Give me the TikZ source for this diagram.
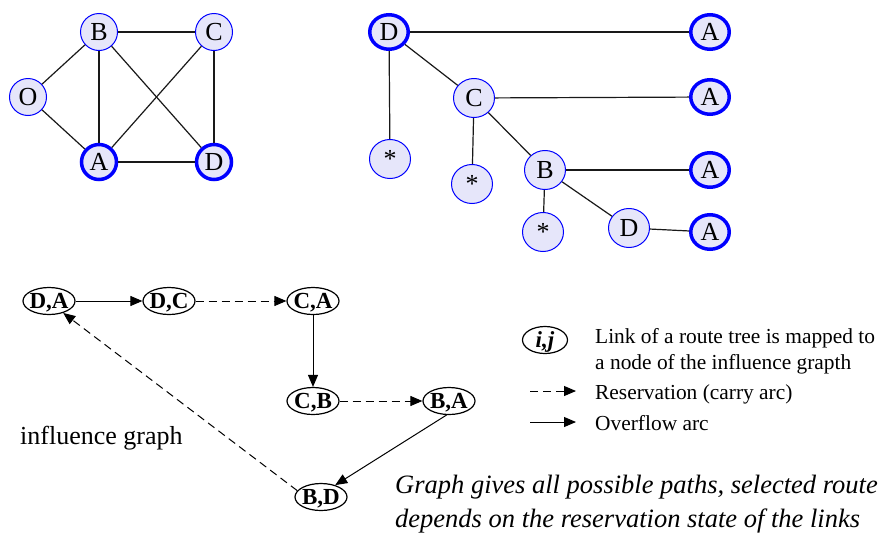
\documentclass[tikz,border=0pt]{standalone}
\usepackage{fontspec}
\setmainfont{Liberation Serif}
\usetikzlibrary{shapes.geometric,arrows.meta}
\definecolor{nodefill}{RGB}{230,230,250}
\definecolor{nodeblue}{RGB}{0,0,255}
\definecolor{edgegray}{RGB}{25,25,25}
\begin{document}
\begin{tikzpicture}[x=1pt,y=-1pt,
  gnode/.style={circle,draw=nodeblue,fill=nodefill,line width=1pt,minimum size=37pt,inner sep=0pt,font=\fontsize{26}{26}\selectfont},
  gthick/.style={gnode,line width=3.5pt,minimum size=35pt},
  tnode/.style={ellipse,draw=nodeblue,fill=nodefill,line width=1pt,minimum width=41pt,minimum height=39pt,inner sep=0pt,font=\fontsize{26}{26}\selectfont},
  tthick/.style={tnode,line width=3.5pt,minimum width=38.5pt,minimum height=34.5pt},
  gedge/.style={draw=edgegray,line width=1.2pt},
  inode/.style={ellipse,draw,line width=1.2pt,minimum width=52pt,minimum height=27pt,inner sep=0pt,text height=15pt,text depth=0pt,font=\fontsize{23}{23}\selectfont\bfseries},
  solidarr/.style={-{Triangle[length=12pt,width=10pt]},line width=1pt},
  dasharr/.style={solidarr,dash pattern=on 8pt off 5pt},
  legtext/.style={anchor=base west,inner sep=0pt,font=\fontsize{21.4}{21.4}\selectfont},
  ittext/.style={anchor=base west,inner sep=0pt,font=\fontsize{26.5}{26.5}\selectfont\itshape},
]
\useasboundingbox (0,0) rectangle (882,536);

% ---------- network graph ----------
\node[gnode]  (gB) at (99,32)  {B};
\node[gnode]  (gC) at (214,32) {C};
\node[gnode]  (gO) at (28,97)  {O};
\node[gthick] (gA) at (99,162) {A};
\node[gthick] (gD) at (214,162) {D};
\draw[gedge] (gB) -- (gC);
\draw[gedge] (gB) -- (gO);
\draw[gedge] (gB) -- (gA);
\draw[gedge] (gB) -- (gD);
\draw[gedge] (gC) -- (gA);
\draw[gedge] (gC) -- (gD);
\draw[gedge] (gO) -- (gA);
\draw[gedge,line width=1.8pt] (gA) -- (gD);

% ---------- route tree ----------
\node[tthick] (tD)  at (389,32)  {D};
\node[tthick] (tA1) at (710,32)  {A};
\node[tnode]  (tC)  at (474,98)  {C};
\node[tthick] (tA2) at (710,97)  {A};
\node[tnode]  (ts1) at (390,159) {*};
\node[tnode]  (ts2) at (472,184) {*};
\node[tnode]  (tB)  at (545,170) {B};
\node[tthick] (tA3) at (710,170) {A};
\node[tnode]  (ts3) at (543,232) {*};
\node[tnode]  (tD2) at (629,228) {D};
\node[tthick] (tA4) at (710,232) {A};
\draw[gedge] (tD) -- (tA1);
\draw[gedge] (tD) -- (tC);
\draw[gedge] (tD) -- (ts1);
\draw[gedge] (tC) -- (tA2);
\draw[gedge] (tC) -- (ts2);
\draw[gedge] (tC) -- (tB);
\draw[gedge] (tB) -- (tA3);
\draw[gedge] (tB) -- (ts3);
\draw[gedge] (tB) -- (tD2);
\draw[gedge] (tD2) -- (tA4);

% ---------- influence graph ----------
\node[inode] (DA) at (49,301)  {\makebox[0pt]{D,A}};
\node[inode] (DC) at (169,301) {\makebox[0pt]{D,C}};
\node[inode] (CA) at (313,301) {\makebox[0pt]{C,A}};
\node[inode] (CB) at (313,401) {\makebox[0pt]{C,B}};
\node[inode] (BA) at (449,401) {\makebox[0pt]{B,A}};
\node[inode] (BD) at (321,497) {\makebox[0pt]{B,D}};
\draw[solidarr] (DA) -- (DC);
\draw[dasharr]  (DC) -- (CA);
\draw[solidarr] (CA) -- (CB);
\draw[dasharr]  (CB) -- (BA);
\draw[solidarr] (BA.260) -- (BD.40);
\draw[dasharr]  (BD.165) -- (DA.-40);

\node[anchor=west,inner sep=0pt,font=\fontsize{26}{26}\selectfont] (lbl) at (20,438) {influence graph};

% ---------- legend ----------
\node[inode,minimum width=45pt,font=\fontsize{23}{23}\selectfont\bfseries\itshape] (ij) at (545,340) {\makebox[0pt]{i,j}};
\node[legtext] (lg1) at (595,343) {Link of a route tree is mapped to};
\node[legtext] (lg2) at (595,369) {a node of the influence grapth};
\coordinate (r1) at (530,391);
\coordinate (r2) at (576,391);
\draw[dasharr] (r1) -- (r2);
\node[legtext] (lg3) at (595,399) {Reservation (carry arc)};
\coordinate (o1) at (530,422);
\coordinate (o2) at (576,422);
\draw[solidarr] (o1) -- (o2);
\node[legtext] (lg4) at (595,430) {Overflow arc};

\node[ittext] (it1) at (395,493) {Graph gives all possible paths, selected route};
\node[ittext] (it2) at (395,527) {depends on the reservation state of the links};
\end{tikzpicture}
\end{document}
